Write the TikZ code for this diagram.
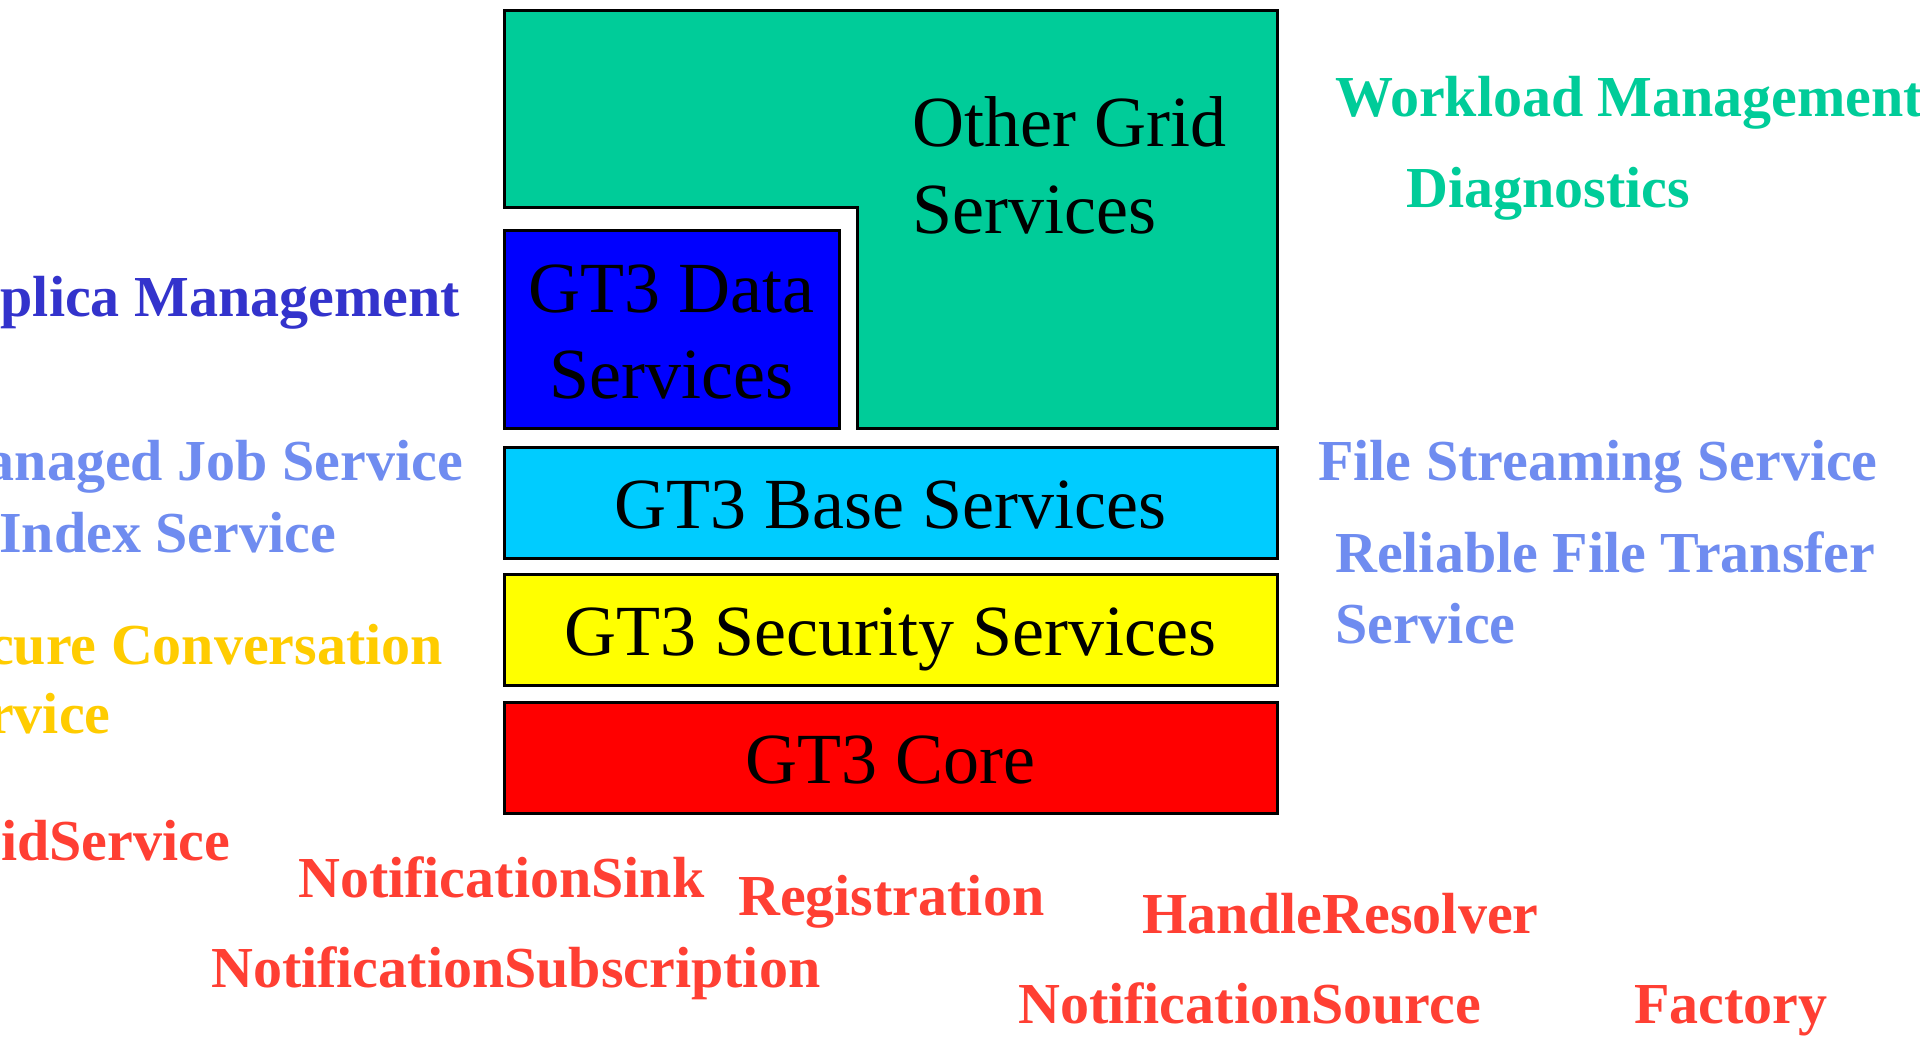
\documentclass[tikz,border=0pt]{standalone}
\usepackage{fontspec}
\setmainfont{Liberation Serif}
\definecolor{gridgreen}{HTML}{00CC99}
\definecolor{databl}{HTML}{0000FF}
\definecolor{basecy}{HTML}{00CCFF}
\definecolor{secyel}{HTML}{FFFF00}
\definecolor{corered}{HTML}{FF0000}
\definecolor{replbl}{HTML}{3333CC}
\definecolor{lightbl}{HTML}{6F8CF0}
\definecolor{secorg}{HTML}{FFCC00}
\definecolor{lblred}{HTML}{FF3F33}
\begin{document}
\begin{tikzpicture}[x=1pt,y=-1pt,
  layer/.style={draw=black, line width=3pt},
  boxtxt/.style={font=\fontsize{72}{86}\selectfont, text=black, inner sep=0pt, anchor=base},
  lbl/.style={font=\fontsize{58}{70}\selectfont\bfseries, inner sep=0pt, anchor=base west},
  lblr/.style={lbl, anchor=base east}]
\useasboundingbox (0,0) rectangle (1920,1038);
\clip (0,0) rectangle (1920,1038);
\fill[white] (0,0) rectangle (1920,1038);
% layers
\draw[layer, fill=gridgreen] (504,11) -- (1277,11) -- (1277,428) -- (857,428) -- (857,207) -- (504,207) -- cycle;
\draw[layer, fill=databl] (504,230) rectangle (839,428);
\draw[layer, fill=basecy] (504,447) rectangle (1277,558);
\draw[layer, fill=secyel] (504,574) rectangle (1277,685);
\draw[layer, fill=corered] (504,702) rectangle (1277,813);
% layer texts (base anchor = baseline of last line)
\node[boxtxt, anchor=base west, align=left] (other) at (912,233) {Other Grid\\Services};
\node[boxtxt, align=center] (data) at (671.5,398) {GT3 Data\\Services};
\node[boxtxt] (base) at (890.5,528) {GT3 Base Services};
\node[boxtxt] (sec) at (890.5,655) {GT3 Security Services};
\node[boxtxt] (core) at (890.5,783) {GT3 Core};
% labels
\node[lbl, text=gridgreen] (wm) at (1335,117) {Workload Management};
\node[lbl, text=gridgreen] (diag) at (1406,207) {Diagnostics};
\node[lblr, text=replbl] (rm) at (460,316) {Replica Management};
\node[lblr, text=lightbl] (mjs) at (463,480) {Managed Job Service};
\node[lbl, text=lightbl] (idx) at (-1,552) {Index Service};
\node[lbl, text=lightbl] (fss) at (1318,480) {File Streaming Service};
\node[lbl, text=lightbl, align=left, font=\fontsize{58}{71}\selectfont\bfseries] (rft) at (1335,643) {Reliable File Transfer\\Service};
\node[lbl, text=secorg, align=left, font=\fontsize{58}{69}\selectfont\bfseries] (scs) at (-70,733) {Secure Conversation\\Service};
\node[lblr, text=lblred] (gs) at (230,860) {GridService};
\node[lbl, text=lblred] (nsink) at (298,897) {NotificationSink};
\node[lbl, text=lblred] (reg) at (738,915) {Registration};
\node[lbl, text=lblred] (nsub) at (211,987) {NotificationSubscription};
\node[lbl, text=lblred] (hr) at (1142,933) {HandleResolver};
\node[lbl, text=lblred] (nsrc) at (1018,1023) {NotificationSource};
\node[lbl, text=lblred] (fac) at (1634,1023) {Factory};
\end{tikzpicture}
\end{document}
